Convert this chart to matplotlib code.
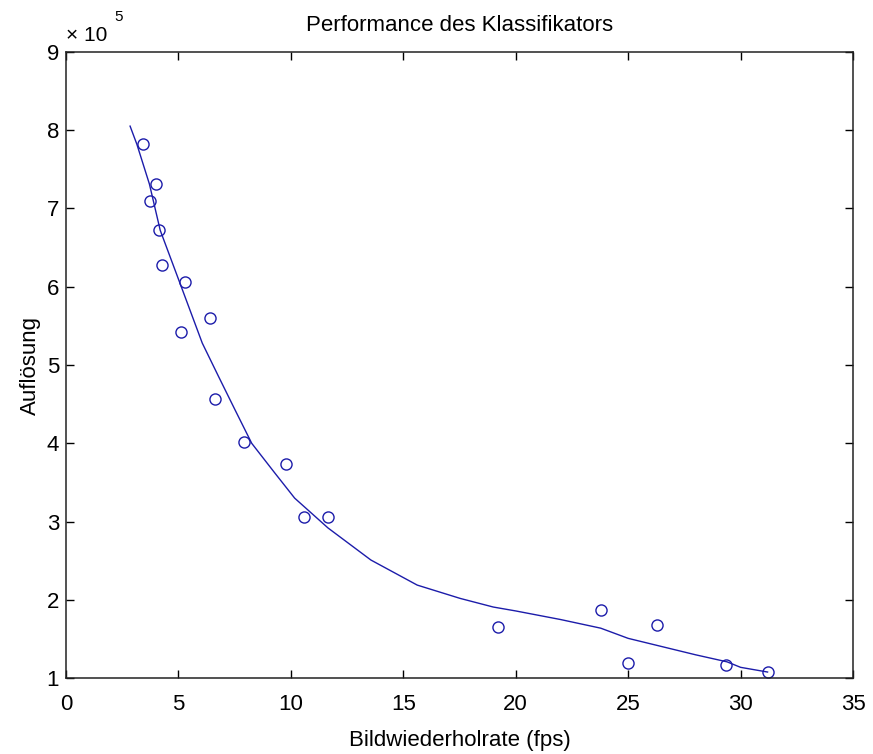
import matplotlib
matplotlib.use('Agg')
import matplotlib.pyplot as plt
from matplotlib.ticker import FuncFormatter

plt.rcParams['font.family'] = ['Liberation Sans', 'DejaVu Sans']

# Measured points (frame rate, resolution)
fps = [3.41, 4.0, 3.74, 4.15, 4.29, 5.28, 6.40, 5.10, 6.62, 7.93, 9.78,
       10.57, 11.65, 19.19, 23.78, 26.29, 24.98, 29.33, 31.2]
resolution = [7.82e5, 7.31e5, 7.10e5, 6.72e5, 6.28e5, 6.06e5, 5.60e5, 5.42e5,
              4.57e5, 4.02e5, 3.73e5, 3.06e5, 3.06e5, 1.66e5, 1.87e5, 1.68e5,
              1.19e5, 1.17e5, 1.08e5]

# Fitted curve
fit_x = [2.85, 3.15, 3.71, 4.19, 5.10, 6.06, 6.79, 7.53, 8.26, 9.29, 10.17,
         11.65, 13.56, 15.62, 17.53, 19.0, 20.0, 22.0, 23.78, 25.0, 28.0,
         29.4, 30.0, 31.2]
fit_y = [8.05e5, 7.82e5, 7.31e5, 6.72e5, 6.02e5, 5.28e5, 4.85e5, 4.42e5,
         4.00e5, 3.62e5, 3.30e5, 2.92e5, 2.51e5, 2.19e5, 2.02e5, 1.91e5,
         1.86e5, 1.75e5, 1.64e5, 1.51e5, 1.30e5, 1.21e5, 1.14e5, 1.08e5]

blue = '#1c1caa'
fs = 16

fig = plt.figure(figsize=(8.73, 7.54), dpi=100)
ax = fig.add_axes([0.0756, 0.1004, 0.9015, 0.8310])

ax.plot(fit_x, fit_y, color=blue, linewidth=1.0)
ax.plot(fps, resolution, 'o', markerfacecolor='none', markeredgecolor=blue,
        markersize=8, markeredgewidth=1.0)

ax.set_xlim(0, 35)
ax.set_ylim(1e5, 9e5)
ax.set_xticks(range(0, 36, 5))
ax.set_yticks([i * 1e5 for i in range(1, 10)])
ax.yaxis.set_major_formatter(FuncFormatter(lambda v, p: '%g' % (v / 1e5)))

# MATLAB style exponent label
ax.text(0.0, 1.010, '× 10', transform=ax.transAxes, fontsize=15,
        ha='left', va='bottom')
ax.text(0.062, 1.045, '5', transform=ax.transAxes, fontsize=11,
        ha='left', va='bottom')

ax.tick_params(direction='in', length=6, width=1.0, top=True, right=True,
               labelsize=fs)
ax.tick_params(axis='x', pad=11)
ax.tick_params(axis='y', pad=5)
for s in ax.spines.values():
    s.set_linewidth(1.1)
    s.set_color('#222222')

ax.set_title('Performance des Klassifikators', fontsize=fs, pad=15)
ax.set_xlabel('Bildwiederholrate (fps)', fontsize=fs, labelpad=11)
ax.set_ylabel('Auflösung', fontsize=fs, labelpad=4)

fig.savefig('out.png', dpi=100)
